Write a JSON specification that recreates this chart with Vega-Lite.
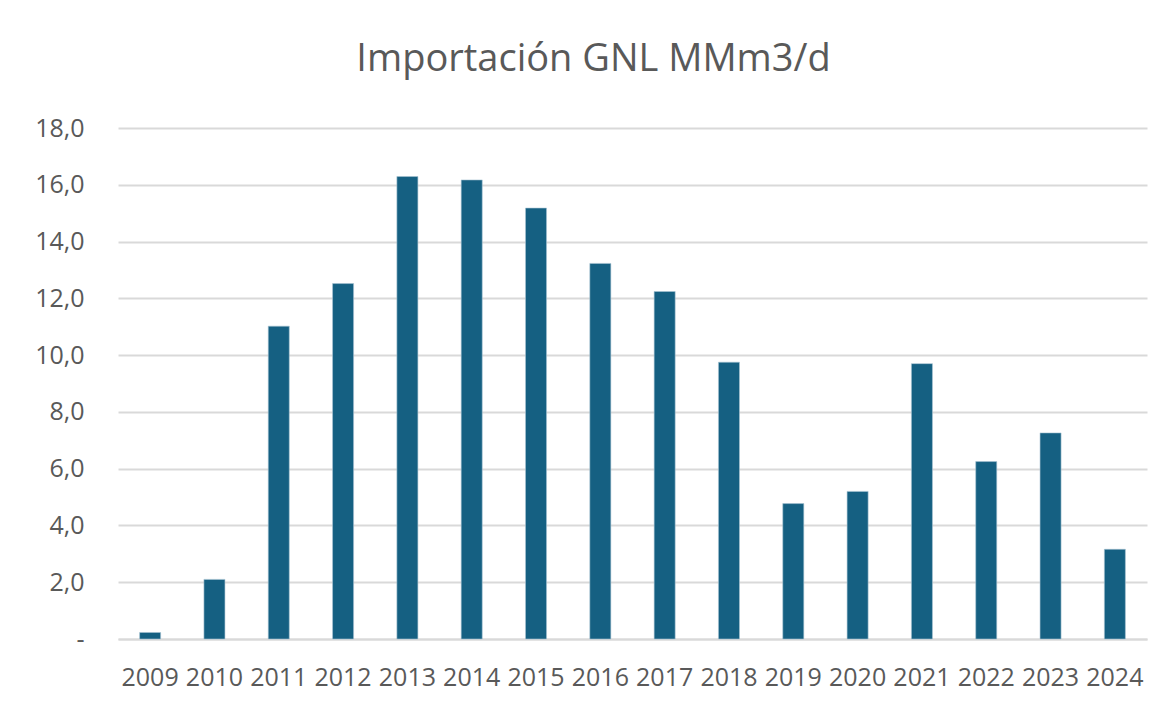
{
  "$schema": "https://vega.github.io/schema/vega-lite/v6.json",
  "width": 1029,
  "height": 511,
  "autosize": {"type": "none"},
  "padding": {"left": 118, "top": 128, "right": 24, "bottom": 70},
  "background": "white",
  "title": {
    "text": "Importación GNL MMm3/d",
    "font": "Open Sans",
    "fontSize": 38,
    "fontWeight": "normal",
    "color": "#595959",
    "anchor": "middle",
    "baseline": "alphabetic",
    "offset": 7,
    "dx": -39
  },
  "data": {
    "values": [
      {"year": "2009", "value": 0.23},
      {"year": "2010", "value": 2.1},
      {"year": "2011", "value": 11.02},
      {"year": "2012", "value": 12.52},
      {"year": "2013", "value": 16.29},
      {"year": "2014", "value": 16.17},
      {"year": "2015", "value": 15.18},
      {"year": "2016", "value": 13.23},
      {"year": "2017", "value": 12.24},
      {"year": "2018", "value": 9.75},
      {"year": "2019", "value": 4.77},
      {"year": "2020", "value": 5.2},
      {"year": "2021", "value": 9.7},
      {"year": "2022", "value": 6.25},
      {"year": "2023", "value": 7.26},
      {"year": "2024", "value": 3.16}
    ]
  },
  "mark": {"type": "bar", "color": "#156082", "stroke": "#a9c4d4", "strokeWidth": 0.6},
  "encoding": {
    "x": {
      "field": "year",
      "type": "ordinal",
      "scale": {"paddingInner": 0.673, "paddingOuter": 0.336},
      "axis": {
        "title": null,
        "labelAngle": 0,
        "labelFont": "Open Sans",
        "labelFontSize": 25,
        "labelColor": "#595959",
        "labelPadding": 26,
        "labelOverlap": false,
        "ticks": false,
        "domainColor": "#d9d9d9",
        "domainWidth": 2
      }
    },
    "y": {
      "field": "value",
      "type": "quantitative",
      "scale": {"domain": [0, 18], "nice": false},
      "axis": {
        "title": null,
        "values": [0, 2, 4, 6, 8, 10, 12, 14, 16, 18],
        "labelExpr": "datum.value == 0 ? '-\u00a0\u00a0\u00a0\u00a0' : replace(format(datum.value, '.1f'), '.', ',')",
        "labelFont": "Open Sans",
        "labelFontSize": 25,
        "labelColor": "#595959",
        "labelPadding": 34,
        "ticks": false,
        "domain": false,
        "gridColor": "#d9d9d9",
        "gridWidth": 2
      }
    }
  },
  "config": {"view": {"stroke": null}}
}
